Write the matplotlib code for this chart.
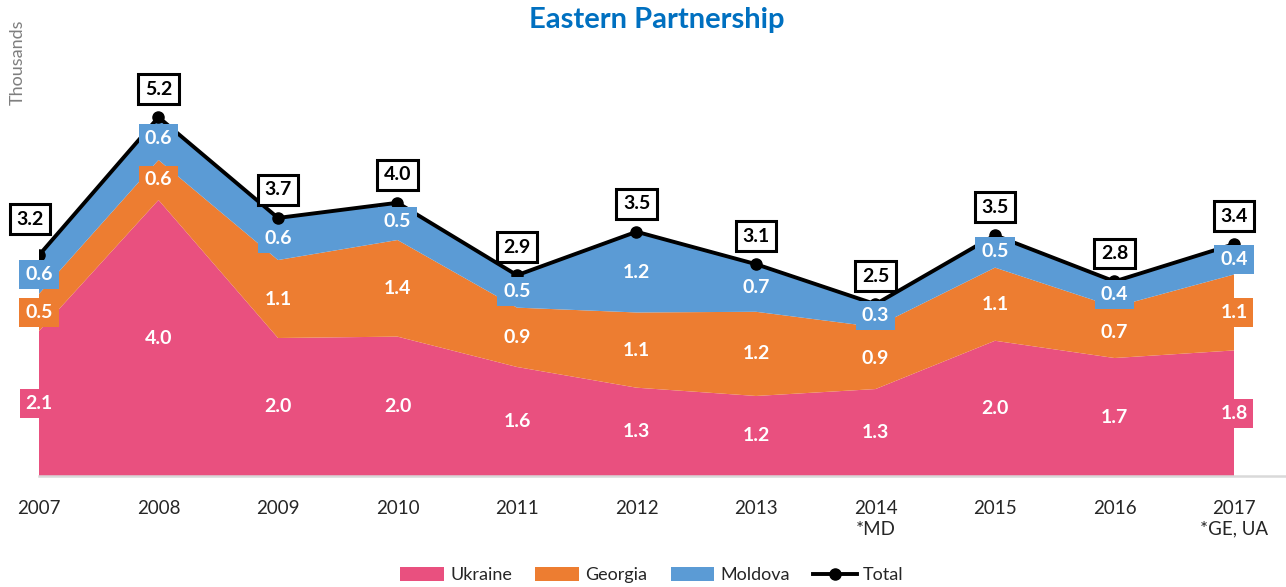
import matplotlib
matplotlib.use("Agg")
import matplotlib.pyplot as plt
from matplotlib.lines import Line2D
from matplotlib.patches import Patch

plt.rcParams['font.family'] = ['Lato', 'DejaVu Sans']

years = [2007, 2008, 2009, 2010, 2011, 2012, 2013, 2014, 2015, 2016, 2017]
year_labels = ["2007", "2008", "2009", "2010", "2011", "2012", "2013",
               "2014\n*MD", "2015", "2016", "2017\n*GE, UA"]
ukraine = [2.10, 4.00, 2.00, 2.02, 1.58, 1.28, 1.16, 1.26, 1.96, 1.71, 1.82]
georgia = [0.54, 0.58, 1.13, 1.40, 0.86, 1.09, 1.22, 0.90, 1.06, 0.74, 1.10]
moldova = [0.56, 0.62, 0.61, 0.54, 0.47, 1.17, 0.69, 0.33, 0.47, 0.37, 0.44]
total = [3.20, 5.20, 3.74, 3.96, 2.91, 3.54, 3.07, 2.49, 3.49, 2.82, 3.36]

series_names = ["Ukraine", "Georgia", "Moldova"]
colors = ["#E9507F", "#ED7D31", "#5B9BD5"]

W, H = 1286, 587
fig = plt.figure(figsize=(W / 100, H / 100), dpi=100)
ax_left, ax_right = 39 / W, 1.0
ax_bottom = 1 - 476 / H
ax_top = 1 - 30 / H
ax = fig.add_axes([ax_left, ax_bottom, ax_right - ax_left, ax_top - ax_bottom])

px_per_year = (1234 - 39) / 10
ax.set_xlim(2007, 2007 + (W - 39) / px_per_year)
ax.set_ylim(0, (476 - 30) / 69.0)

ax.stackplot(years, ukraine, georgia, moldova, colors=colors, zorder=1,
             edgecolor='none')
ax.plot(years, total, color='black', lw=2.8, marker='o', markersize=8,
        zorder=3, solid_joinstyle='miter')

# series labels at segment centers
bottom = [0.0] * len(years)
for vals, col in zip([ukraine, georgia, moldova], colors):
    for i, (x, v) in enumerate(zip(years, vals)):
        yc = bottom[i] + v / 2
        ax.text(x, yc, f"{v:.1f}", ha='center', va='center', color='white',
                fontsize=14, fontweight='bold', zorder=4,
                bbox=dict(boxstyle='square,pad=0.3', fc=col, ec='none'))
        bottom[i] += v

# total labels
label_dx = {2007: -9}
label_dy = {2007: 36}
for x, t in zip(years, total):
    ax.annotate(f"{t:.1f}", xy=(x, t),
                xytext=(label_dx.get(x, 0), label_dy.get(x, 28)),
                textcoords='offset pixels',
                ha='center', va='center', fontsize=14, fontweight='bold',
                color='black', zorder=5,
                bbox=dict(boxstyle='square,pad=0.33', fc='white', ec='black', lw=2.2))

for s in ['top', 'right', 'left']:
    ax.spines[s].set_visible(False)
ax.spines['bottom'].set_color('#D9D9D9')
ax.spines['bottom'].set_linewidth(1.8)
ax.set_yticks([])
ax.set_xticks(years)
ax.set_xticklabels(year_labels, fontsize=13.5, color='#262626')
ax.tick_params(axis='x', length=0, pad=17)
for lbl in ax.get_xticklabels():
    lbl.set_linespacing(1.3)

fig.text(657 / W, 1 - 20 / H, "Eastern Partnership", ha='center', va='center',
         fontsize=21, fontweight='bold', color='#0070C0')
fig.text(18 / W, 1 - 62 / H, "Thousands", rotation=90, ha='center', va='center',
         fontsize=13, color='#7F7F7F')

handles = [Patch(facecolor=c, edgecolor='none') for c in colors]
handles.append(Line2D([0], [0], color='black', lw=2.8, marker='o', markersize=8))
fig.legend(handles, series_names + ["Total"], loc='center',
           bbox_to_anchor=(652 / W, 1 - 575 / H), ncol=4, frameon=False,
           fontsize=13, handlelength=2.4, handleheight=0.8, handletextpad=0.35,
           columnspacing=1.3, labelcolor='#262626')

fig.savefig("out.png", dpi=100)
